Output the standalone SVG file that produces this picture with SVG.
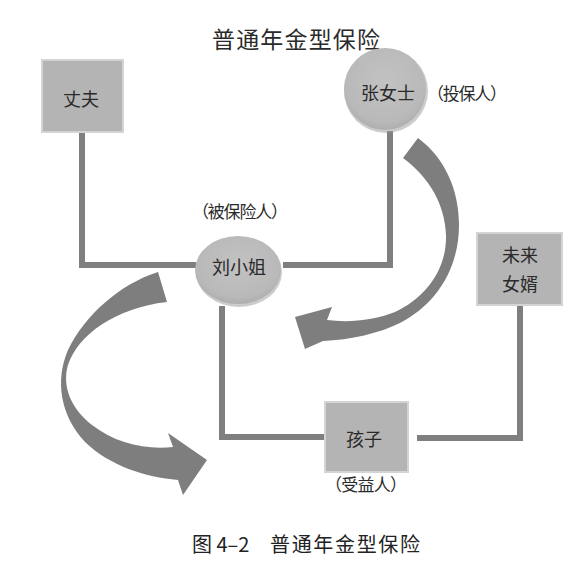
<svg xmlns="http://www.w3.org/2000/svg" width="575" height="572" viewBox="0 0 575 572">
<defs>
<radialGradient id="cg" cx="50%" cy="42%" r="60%">
<stop offset="0" stop-color="#c2c2c2"/>
<stop offset="0.8" stop-color="#b9b9b9"/>
<stop offset="1" stop-color="#acacac"/>
</radialGradient>
<style>
.lbl{font-family:"Noto Sans CJK SC","Liberation Serif",serif;fill:#2a2a2a;text-anchor:middle;dominant-baseline:central}
.box{fill:#b4b4b4;stroke:#d4d4d4;stroke-width:2}
.shadow{fill:#9a9a9a;opacity:0.5}
.con{fill:none;stroke:#7f7f7f;stroke-width:6}
.arrow{fill:#7e7e7e}
</style>
</defs>
<rect width="575" height="572" fill="#ffffff"/>
<text class="lbl" x="296" y="38" font-size="23" textLength="168">普通年金型保险</text>
<g id="connectors">
<path class="con" d="M82,133 V265 H196"/>
<path class="con" d="M390,131 V265 H283"/>
<path class="con" d="M222,306 V437 H325"/>
<path class="con" d="M520,306 V438 H417"/>
</g>
<g id="arrows">
<path class="arrow" d="M403,158 L418,138 C445,158 459,190 459,225 C459,270 435,305 400,323 C380,333 350,340 323,341 L305,349 L295,317 L332,307 L327,320 C350,323 375,320 395,312 C425,298 447,270 446,235 C445,205 430,178 403,158 Z"/>
<path class="arrow" d="M158,272 C120,284 85,315 68,350 C55,380 60,415 85,442 C110,466 145,477 178,480 L183,495 L207,460 L168,433 L173,447 C145,450 115,443 92,425 C70,408 62,385 68,365 C78,335 115,308 167,302 Z"/>
</g>
<g id="husband">
<rect class="box" x="42" y="60" width="81" height="72"/>
<text class="lbl" x="81" y="98" font-size="18">丈夫</text>
</g>
<g id="zhang">
<circle class="shadow" cx="386" cy="91" r="42"/>
<circle cx="385" cy="89" r="41" fill="url(#cg)"/>
<text class="lbl" x="388" y="92" font-size="18">张女士</text>
<text class="lbl" x="467" y="92" font-size="17" textLength="80">（投保人）</text>
</g>
<g id="liu">
<text class="lbl" x="240" y="210" font-size="17" textLength="96">（被保险人）</text>
<ellipse class="shadow" cx="239" cy="272" rx="43" ry="35"/>
<ellipse cx="238" cy="270" rx="43" ry="34" fill="url(#cg)"/>
<text class="lbl" x="239" y="266" font-size="18">刘小姐</text>
</g>
<g id="son-in-law">
<rect class="box" x="477" y="233" width="85" height="72"/>
<text class="lbl" x="520" y="254" font-size="18">未来</text>
<text class="lbl" x="520" y="283" font-size="18">女婿</text>
</g>
<g id="child">
<rect class="box" x="325" y="402" width="83" height="70"/>
<text class="lbl" x="364" y="438" font-size="18">孩子</text>
<text class="lbl" x="366" y="483" font-size="17" textLength="82">（受益人）</text>
</g>
<g id="caption">
<text x="192" y="543" font-size="20" font-family="'Noto Sans CJK SC','Liberation Sans',sans-serif" fill="#222" dominant-baseline="central">图 4–2</text>
<text x="270" y="543" font-size="20" font-family="'Noto Sans CJK SC','Liberation Sans',sans-serif" fill="#222" dominant-baseline="central" textLength="150">普通年金型保险</text>
</g>
</svg>
